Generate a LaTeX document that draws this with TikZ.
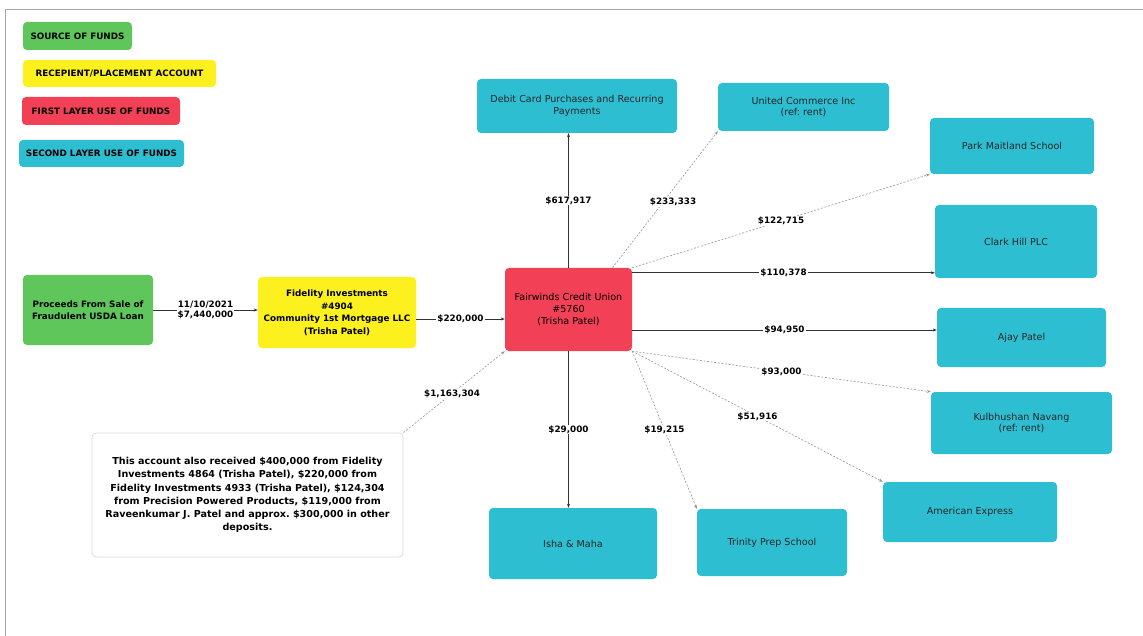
\documentclass[tikz,border=0pt]{standalone}
\usepackage{fontspec}
\setmainfont{DejaVu Sans}
\usetikzlibrary{arrows.meta,calc}
\definecolor{cgreen}{RGB}{94,198,90}
\definecolor{cyellow}{RGB}{252,240,30}
\definecolor{cred}{RGB}{242,64,86}
\definecolor{ccyan}{RGB}{45,190,210}
\definecolor{cnote}{RGB}{210,222,230}
\definecolor{cline}{RGB}{50,50,50}
\definecolor{cdot}{RGB}{150,150,150}
\frenchspacing
\begin{document}
\begin{tikzpicture}[x=1pt,y=-1pt,
  box/.style={rounded corners=4pt, inner sep=2pt, align=center, text=black},
  legbox/.style={box, font=\fontsize{8.8}{10}\selectfont\bfseries},
  gbox/.style={box, fill=cgreen},
  ybox/.style={box, fill=cyellow},
  rbox/.style={box, fill=cred},
  cbox/.style={box, fill=ccyan, text=black!85, font=\fontsize{9.6}{11.5}\selectfont},
  mainbold/.style={font=\fontsize{8.8}{12.5}\selectfont\bfseries},
  notebox/.style={box, draw=cnote, line width=0.8pt, fill=white,
     font=\fontsize{9.6}{13.3}\selectfont\bfseries},
  solidflow/.style={draw=cline, line width=0.6pt, -{Stealth[length=4pt,width=3pt]}},
  dotflow/.style={draw=cdot, line width=0.6pt, dash pattern=on 2pt off 1.6pt, -{Stealth[length=4pt,width=3pt]}},
  amt/.style={fill=white, inner sep=1pt, text=black, align=center, font=\fontsize{8.8}{10.5}\selectfont\bfseries}
]
\useasboundingbox (0,0) rectangle (1143,636);
\fill[white] (0,0) rectangle (1143,636);
\draw[gray!70, line width=1pt] (5,636) -- (5,10) -- (1143,10);

% legend
\node[legbox, fill=cgreen, minimum width=109pt, minimum height=28pt] (ls) at (77.5,36) {SOURCE OF FUNDS};
\node[legbox, fill=cyellow, minimum width=193pt, minimum height=27pt] (lr) at (119.5,73.5) {RECEPIENT/PLACEMENT ACCOUNT};
\node[legbox, fill=cred, minimum width=158pt, minimum height=28pt] (lf) at (101,111) {FIRST LAYER USE OF FUNDS};
\node[legbox, fill=ccyan, minimum width=165pt, minimum height=27pt] (lc) at (101.5,153.5) {SECOND LAYER USE OF FUNDS};

% main nodes
\node[gbox, mainbold, minimum width=130pt, minimum height=70pt] (P) at (88,310) {Proceeds From Sale of\\Fraudulent USDA Loan};
\node[ybox, mainbold, minimum width=158pt, minimum height=71pt] (FI) at (337,312.5) {Fidelity Investments\\\#4904\\Community 1st Mortgage LLC\\(Trisha Patel)};
\node[rbox, font=\fontsize{9.6}{12}\selectfont, minimum width=127pt, minimum height=83pt] (F) at (568.5,309.5) {Fairwinds Credit Union\\\#5760\\(Trisha Patel)};

\node[cbox, minimum width=200pt, minimum height=54pt] (D) at (577,106) {Debit Card Purchases and Recurring\\Payments};
\node[cbox, minimum width=171pt, minimum height=48pt] (U) at (803.5,107) {United Commerce Inc\\(ref: rent)};
\node[cbox, minimum width=164pt, minimum height=56pt] (PM) at (1012,146) {Park Maitland School};
\node[cbox, minimum width=162pt, minimum height=73pt] (C) at (1016,241.5) {Clark Hill PLC};
\node[cbox, minimum width=169pt, minimum height=59pt] (A) at (1021.5,337.5) {Ajay Patel};
\node[cbox, minimum width=181pt, minimum height=62pt] (K) at (1021.5,423) {Kulbhushan Navang\\(ref: rent)};
\node[cbox, minimum width=174pt, minimum height=60pt] (AE) at (970,512) {American Express};
\node[cbox, minimum width=168pt, minimum height=71pt] (I) at (573,543.5) {Isha \& Maha};
\node[cbox, minimum width=150pt, minimum height=67pt] (T) at (772,542.5) {Trinity Prep School};

\node[notebox, minimum width=311pt, minimum height=124pt] (N) at (247.5,495) {This account also received \$400,000 from Fidelity\\Investments 4864 (Trisha Patel), \$220,000 from\\Fidelity Investments 4933 (Trisha Patel), \$124,304\\from Precision Powered Products, \$119,000 from\\Raveenkumar J. Patel and approx. \$300,000 in other\\deposits.};

% connectors
\draw[solidflow] (P.east) -- (P.east -| FI.west) node[amt, midway] {11/10/2021\\\$7,440,000};
\draw[solidflow] ($(FI.east)+(0,6.5)$) coordinate (fo) -- (fo -| F.west) node[amt, midway] {\$220,000};
\draw[solidflow] (F.north) -- (F.north |- D.south) node[amt, midway] {\$617,917};
\draw[solidflow] (F.south) -- (F.south |- I.north) node[amt, midway] {\$29,000};
\draw[solidflow] ($(F.north east)+(0,5)$) coordinate (fc) -- (fc -| C.west) node[amt, midway] {\$110,378};
\draw[solidflow] ($(F.east)+(0,20.5)$) coordinate (fa) -- (fa -| A.west) node[amt, midway] {\$94,950};
\draw[dotflow] ($(F.north)+(44,0)$) -- (U.south west) node[amt, pos=0.48, xshift=10pt] {\$233,333};
\draw[dotflow] (F.north east) -- (PM.south west) node[amt, pos=0.5] {\$122,715};
\draw[dotflow] (F.south east) -- (K.north west) node[amt, pos=0.5] {\$93,000};
\draw[dotflow] (F.south east) -- (AE.north west) node[amt, pos=0.5] {\$51,916};
\draw[dotflow] (F.south east) -- (T.north west) node[amt, pos=0.5] {\$19,215};
\draw[dotflow] (N.north east) -- (F.south west) node[amt, pos=0.48] {\$1,163,304};
\end{tikzpicture}
\end{document}
